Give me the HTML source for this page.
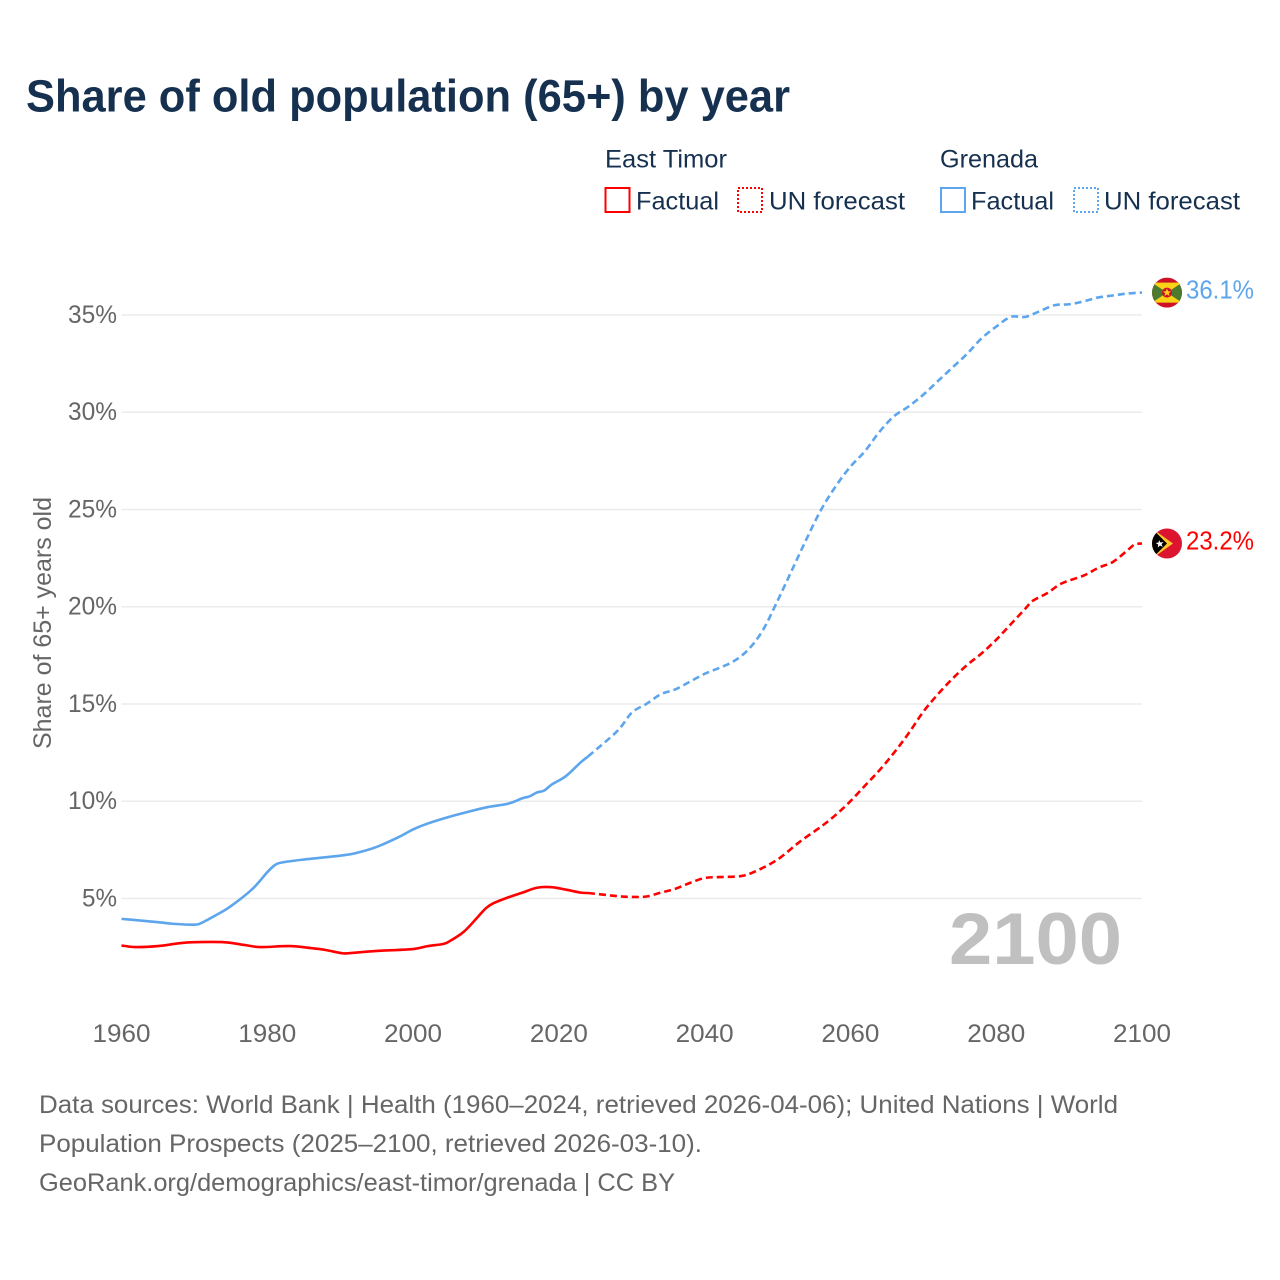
<!DOCTYPE html>
<html lang="en">
<head>
<meta charset="utf-8">
<title>Share of old population (65+) by year</title>
<style>
html,body{margin:0;padding:0;background:#fff;width:1280px;height:1280px;overflow:hidden}
svg{display:block}
text{font-family:"Liberation Sans",sans-serif}
</style>
</head>
<body>
<svg id="chart" width="1280" height="1280" viewBox="0 0 1280 1280">
  <text x="26" y="111.5" font-size="45" font-weight="700" fill="#16304f" textLength="764" lengthAdjust="spacingAndGlyphs">Share of old population (65+) by year</text>

  <g>
    <text x="605" y="167.5" font-size="25" fill="#16304f" textLength="122" lengthAdjust="spacingAndGlyphs">East Timor</text>
    <rect x="605.5" y="188" width="24" height="24" fill="none" stroke="#ff0000" stroke-width="2"/>
    <text x="636" y="209.5" font-size="25" fill="#16304f" textLength="83" lengthAdjust="spacingAndGlyphs">Factual</text>
    <rect x="738" y="188" width="24" height="24" fill="none" stroke="#ff0000" stroke-width="2" stroke-dasharray="2 2"/>
    <text x="769" y="209.5" font-size="25" fill="#16304f" textLength="136" lengthAdjust="spacingAndGlyphs">UN forecast</text>

    <text x="940" y="167.5" font-size="25" fill="#16304f" textLength="98" lengthAdjust="spacingAndGlyphs">Grenada</text>
    <rect x="941" y="188" width="24" height="24" fill="none" stroke="#5da5ec" stroke-width="2"/>
    <text x="971" y="209.5" font-size="25" fill="#16304f" textLength="83" lengthAdjust="spacingAndGlyphs">Factual</text>
    <rect x="1074" y="188" width="24" height="24" fill="none" stroke="#5da5ec" stroke-width="2" stroke-dasharray="2 2"/>
    <text x="1104" y="209.5" font-size="25" fill="#16304f" textLength="136" lengthAdjust="spacingAndGlyphs">UN forecast</text>
  </g>

  <g id="grid"></g>
  <g id="yticks"></g>
  <g id="xticks"></g>

  <text transform="translate(51,623) rotate(-90)" text-anchor="middle" font-size="25" fill="#666666" textLength="252" lengthAdjust="spacingAndGlyphs">Share of 65+ years old</text>

  <text x="1122" y="964" text-anchor="end" font-size="73" font-weight="700" fill="#c0c0c0" textLength="173" lengthAdjust="spacingAndGlyphs">2100</text>

  <g id="series"></g>

  <g id="flag-grenada">
    <defs>
      <clipPath id="clip-gd"><circle cx="0" cy="0" r="15"/></clipPath>
      <clipPath id="clip-tl"><circle cx="0" cy="0" r="15"/></clipPath>
    </defs>
    <g clip-path="url(#clip-gd)">
      <rect x="-15" y="-15" width="30" height="30" fill="#ce1126"/>
      <polygon points="-15,-10 15,-10 15,10 -15,10" fill="#4c7a2e"/>
      <polygon points="-15,-10 15,-10 0,0" fill="#fcd116"/>
      <polygon points="-15,10 15,10 0,0" fill="#fcd116"/>
      <circle cx="0" cy="0" r="5" fill="#ce1126"/>
      <polygon points="0,-4 1.2,-1.2 4,-1.2 1.8,0.7 2.5,3.4 0,1.8 -2.5,3.4 -1.8,0.7 -4,-1.2 -1.2,-1.2" fill="#fcd116"/>
    </g>
  </g>
  <g id="flag-timor">
    <g clip-path="url(#clip-tl)">
      <rect x="-15" y="-15" width="30" height="30" fill="#dc1430"/>
      <polygon points="-15,-15 6,0 -15,15" fill="#ffc726"/>
      <polygon points="-15,-15 0,0 -15,15" fill="#000000"/>
      <polygon points="-8,-3.5 -6.6,-1 -3.5,-1.5 -5.5,0.6 -4.2,3.4 -7,2 -9.2,4 -8.8,1 -11.4,-0.5 -8.4,-1" fill="#ffffff"/>
    </g>
  </g>

  <text id="value-grenada" x="1186" y="298" font-size="26" fill="#5da5ec" textLength="68" lengthAdjust="spacingAndGlyphs">36.1%</text>
  <text id="value-timor" x="1186" y="549" font-size="26" fill="#ff0000" textLength="68" lengthAdjust="spacingAndGlyphs">23.2%</text>

  <g font-size="25" fill="#666666">
    <text x="39" y="1113" textLength="1079" lengthAdjust="spacingAndGlyphs">Data sources: World Bank | Health (1960–2024, retrieved 2026-04-06); United Nations | World</text>
    <text x="39" y="1152" textLength="663" lengthAdjust="spacingAndGlyphs">Population Prospects (2025–2100, retrieved 2026-03-10).</text>
    <text x="39" y="1191" textLength="636" lengthAdjust="spacingAndGlyphs">GeoRank.org/demographics/east-timor/grenada | CC BY</text>
  </g>
</svg>
<script>
const xTickLabels = [1960, 1980, 2000, 2020, 2040, 2060, 2080, 2100];
const yTickLabels = [5, 10, 15, 20, 25, 30, 35];

const grenadaFactualYears = [1960,1965,1967,1970,1971,1973,1975,1978,1980,1981,1982,1985,1990,1992,1995,1998,2000,2002,2005,2007,2010,2013,2015,2016,2017,2018,2019,2021,2023,2024];
const grenadaFactualValues = [3.95,3.78,3.70,3.65,3.75,4.15,4.6,5.5,6.35,6.7,6.85,7.0,7.2,7.32,7.65,8.15,8.55,8.85,9.2,9.4,9.68,9.87,10.15,10.25,10.45,10.55,10.85,11.3,12.0,12.3];
const grenadaForecastYears = [2024,2028,2030,2032,2034,2036,2038,2040,2042,2044,2046,2048,2050,2052,2054,2056,2058,2060,2062,2064,2066,2068,2070,2072,2074,2076,2078,2080,2082,2084,2086,2088,2090,2092,2094,2096,2098,2100];
const grenadaForecastValues = [12.3,13.6,14.55,15.0,15.5,15.75,16.15,16.55,16.85,17.2,17.8,18.8,20.3,21.9,23.5,25.0,26.2,27.2,28.0,29.0,29.8,30.3,30.9,31.6,32.3,33.0,33.8,34.4,34.9,34.9,35.2,35.5,35.55,35.7,35.9,36.0,36.1,36.15];

const timorFactualYears = [1960,1962,1965,1968,1970,1974,1977,1979,1983,1986,1988,1990,1991,1995,2000,2002,2004,2005,2007,2009,2010,2011,2013,2015,2017,2019,2021,2023,2024];
const timorFactualValues = [2.58,2.5,2.55,2.7,2.75,2.75,2.6,2.5,2.55,2.45,2.35,2.2,2.18,2.3,2.4,2.55,2.65,2.8,3.3,4.1,4.5,4.75,5.05,5.3,5.55,5.58,5.45,5.3,5.28];
const timorForecastYears = [2024,2028,2030,2032,2034,2036,2038,2040,2042,2045,2047,2050,2053,2056,2058,2060,2062,2064,2066,2068,2070,2072,2074,2076,2078,2080,2082,2084,2085,2087,2089,2092,2094,2096,2098,2099,2100];
const timorForecastValues = [5.28,5.12,5.08,5.1,5.3,5.5,5.8,6.05,6.1,6.15,6.4,7.0,7.9,8.7,9.3,10.0,10.8,11.6,12.5,13.5,14.6,15.5,16.3,17.0,17.6,18.3,19.1,19.9,20.3,20.7,21.2,21.6,22.0,22.3,22.9,23.2,23.25];

const NS = 'http://www.w3.org/2000/svg';
const xScale = function (year) { return 121.5 + (year - 1960) * (1142 - 121.5) / 140; };
const yScale = function (value) { return 995.7 - value * 19.45; };

function linePath(years, values) {
  const pts = years.map(function (y, i) { return [xScale(y), yScale(values[i])]; });
  let d = 'M' + pts[0][0].toFixed(2) + ' ' + pts[0][1].toFixed(2);
  for (let i = 0; i < pts.length - 1; i++) {
    const p0 = pts[Math.max(i - 1, 0)], p1 = pts[i], p2 = pts[i + 1], p3 = pts[Math.min(i + 2, pts.length - 1)];
    const c1x = p1[0] + (p2[0] - p0[0]) / 6, c1y = p1[1] + (p2[1] - p0[1]) / 6;
    const c2x = p2[0] - (p3[0] - p1[0]) / 6, c2y = p2[1] - (p3[1] - p1[1]) / 6;
    d += 'C' + c1x.toFixed(2) + ' ' + c1y.toFixed(2) + ' ' + c2x.toFixed(2) + ' ' + c2y.toFixed(2) + ' ' + p2[0].toFixed(2) + ' ' + p2[1].toFixed(2);
  }
  return d;
}

const gridG = document.getElementById('grid');
const yG = document.getElementById('yticks');
const xG = document.getElementById('xticks');
const seriesG = document.getElementById('series');

yTickLabels.forEach(function (v) {
  const ln = document.createElementNS(NS, 'line');
  ln.setAttribute('x1', 121.5);
  ln.setAttribute('x2', 1142);
  ln.setAttribute('y1', yScale(v));
  ln.setAttribute('y2', yScale(v));
  ln.setAttribute('stroke', '#ebebeb');
  ln.setAttribute('stroke-width', '1.5');
  
  
  gridG.appendChild(ln);

  const t = document.createElementNS(NS, 'text');
  t.setAttribute('x', 117);
  t.setAttribute('y', yScale(v) + 8);
  t.setAttribute('text-anchor', 'end');
  t.setAttribute('font-size', '25');
  t.setAttribute('fill', '#666666');
  t.setAttribute('textLength', v < 10 ? 35 : 49);
  t.setAttribute('lengthAdjust', 'spacingAndGlyphs');
  
  
  t.textContent = v + '%';
  yG.appendChild(t);
});

xTickLabels.forEach(function (y) {
  const t = document.createElementNS(NS, 'text');
  t.setAttribute('x', xScale(y));
  t.setAttribute('y', 1042);
  t.setAttribute('text-anchor', 'middle');
  t.setAttribute('font-size', '25');
  t.setAttribute('fill', '#666666');
  t.setAttribute('textLength', 58);
  t.setAttribute('lengthAdjust', 'spacingAndGlyphs');
  
  
  t.textContent = y;
  xG.appendChild(t);
});

function addLine(years, values, color, dashed, name) {
  const p = document.createElementNS(NS, 'path');
  p.setAttribute('d', linePath(years, values));
  p.setAttribute('fill', 'none');
  p.setAttribute('stroke', color);
  p.setAttribute('stroke-width', '2.6');
  p.setAttribute('stroke-linejoin', 'round');
  if (dashed) p.setAttribute('stroke-dasharray', '7 4');
  
  
  seriesG.appendChild(p);
}

addLine(grenadaFactualYears, grenadaFactualValues, '#5da5ec', false, 'grenada-factual-line');
addLine(grenadaForecastYears, grenadaForecastValues, '#5da5ec', true, 'grenada-forecast-line');
addLine(timorFactualYears, timorFactualValues, '#ff0000', false, 'east-timor-factual-line');
addLine(timorForecastYears, timorForecastValues, '#ff0000', true, 'east-timor-forecast-line');

const lastGrenada = grenadaForecastValues[grenadaForecastValues.length - 1];
const lastTimor = timorForecastValues[timorForecastValues.length - 1];
document.getElementById('flag-grenada').setAttribute('transform', 'translate(1167,' + yScale(lastGrenada) + ')');
document.getElementById('flag-timor').setAttribute('transform', 'translate(1167,' + yScale(lastTimor) + ')');
document.getElementById('value-grenada').setAttribute('y', yScale(lastGrenada) + 6);
document.getElementById('value-timor').setAttribute('y', yScale(lastTimor) + 6);
</script>
</body>
</html>
